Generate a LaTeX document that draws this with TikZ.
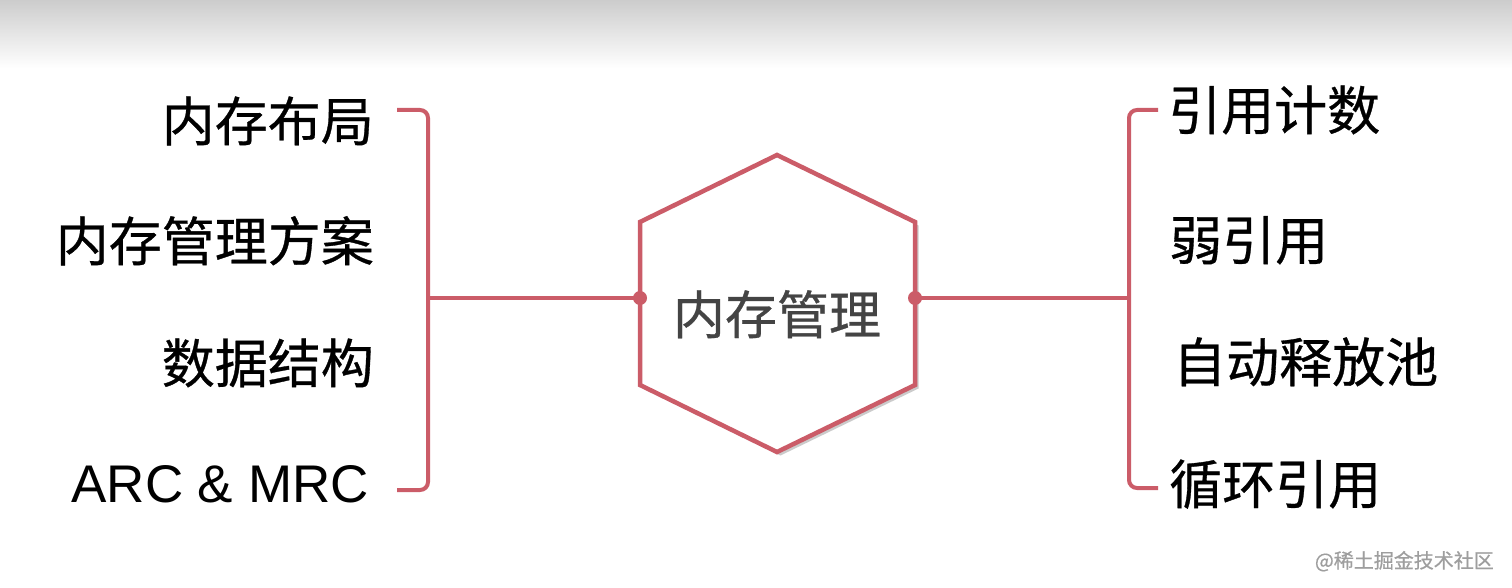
\documentclass[tikz,border=0pt]{standalone}
\usepackage{fontspec}
\setmainfont{Liberation Sans}
\newfontfamily\cjk[FakeBold=0.6]{Noto Sans CJK SC}
\usetikzlibrary{shadows}
\definecolor{memred}{RGB}{203,92,104}
\definecolor{memgray}{RGB}{68,68,68}

\begin{document}
\begin{tikzpicture}[x=1pt,y=-1pt,
  item/.style={inner sep=0pt,font=\cjk\fontsize{53}{60}\selectfont},
  latin/.style={inner sep=0pt,font=\fontsize{53}{60}\selectfont},
  branch/.style={draw=memred,line width=4pt,rounded corners=8pt},
  hexline/.style={draw=memred,line width=4.5pt,fill=white},
  knob/.style={circle,fill=memred,inner sep=0pt,minimum size=14pt}]
\fill[white] (0,0) rectangle (1512,588);
\shade[top color=black!20,bottom color=white] (0,0) rectangle (1512,68);
\useasboundingbox (0,0) rectangle (1512,588);

% centre hexagon
\draw[hexline,drop shadow={shadow xshift=3.5pt,shadow yshift=-3.5pt,opacity=.45,fill=black!45}]
  (777,155) -- (915,222) -- (915,385) -- (777,452) -- (640,385) -- (640,222) -- cycle;
\node[item,text=memgray,anchor=base,font=\cjk\fontsize{52}{60}\selectfont] (mem) at (777,334) {内存管理};
\node[knob] (k_l) at (640,298) {};
\node[knob] (k_r) at (915,298) {};

% left branch
\node[item,anchor=base east]  (l_1) at (374,141) {内存布局};
\node[item,anchor=base east]  (l_2) at (374,261) {内存管理方案};
\node[item,anchor=base east]  (l_3) at (374,383) {数据结构};
\node[latin,anchor=base east] (l_4) at (369,502) {ARC \& MRC};
\coordinate (lj) at (428,298);
\coordinate (lt) at (397,110);
\coordinate (lb) at (397,490);
\draw[branch] (lt) -| (lj) |- (lb);
\draw[branch] (k_l.center) -- (lj);

% right branch
\node[item,anchor=base west] (r_1) at (1168,130) {引用计数};
\node[item,anchor=base west] (r_2) at (1169,260) {弱引用};
\node[item,anchor=base west] (r_3) at (1173,382) {自动释放池};
\node[item,anchor=base west] (r_4) at (1169,504) {循环引用};
\coordinate (rj) at (1129,298);
\coordinate (rt) at (1158,110);
\coordinate (rb) at (1158,488);
\draw[branch] (rt) -| (rj) |- (rb);
\draw[branch] (k_r.center) -- (rj);

\node[inner sep=0pt,anchor=base east,text=black!38,font=\cjk\fontsize{20}{22}\selectfont] (mark) at (1494,568) {@稀土掘金技术社区};
\end{tikzpicture}
\end{document}
